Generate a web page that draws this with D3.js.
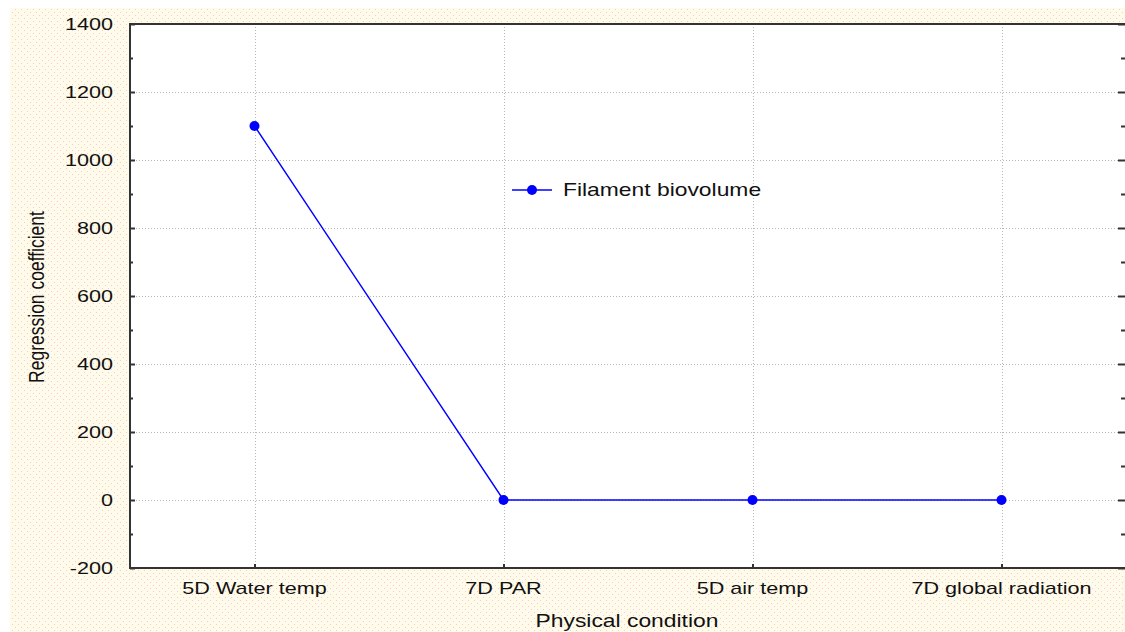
<!DOCTYPE html>
<html>
<head>
<meta charset="utf-8">
<script src="https://cdn.jsdelivr.net/npm/d3@7"></script>
<style>
  body { margin: 0; background: #fff; }
  text { font-family: "Liberation Sans", Arial, sans-serif; fill: #111; }
</style>
</head>
<body>
<div id="wrapper"></div>
<script>
// data
const categories = ['5D Water temp', '7D PAR', '5D air temp', '7D global radiation']
const filamentBiovolume = [1100, 0, 0, 0]
const yTicks = [-200, 0, 200, 400, 600, 800, 1000, 1200, 1400]
const seriesName = 'Filament biovolume'

function drawChart() {
  const width = 1125
  const height = 632
  const stretch = 1.27   // the source image is widened horizontally

  const dims = { left: 130, top: 24, right: 1126, bottom: 568 }

  const svg = d3.select('#wrapper').append('svg')
    .attr('width', width)
    .attr('height', height)

  // dotted paper background
  const defs = svg.append('defs')
  const pat = defs.append('pattern')
    .attr('id', 'paper')
    .attr('width', 6).attr('height', 6)
    .attr('patternUnits', 'userSpaceOnUse')
  pat.append('rect').attr('width', 6).attr('height', 6).attr('fill', '#fffbea')
  pat.append('rect').attr('x', 0).attr('y', 0).attr('width', 1).attr('height', 1).attr('fill', '#f6c9d2')
  pat.append('rect').attr('x', 3).attr('y', 3).attr('width', 1).attr('height', 1).attr('fill', '#f6c9d2')

  svg.append('rect')
    .attr('x', 10).attr('y', 8)
    .attr('width', width - 10).attr('height', height - 8)
    .attr('fill', 'url(#paper)')

  // scales
  const x = d3.scalePoint()
    .domain(categories)
    .range([dims.left, dims.right])
    .padding(0.5)

  const y = d3.scaleLinear()
    .domain([-200, 1400])
    .range([dims.bottom, dims.top])

  // plot area
  svg.append('rect')
    .attr('x', dims.left).attr('y', dims.top)
    .attr('width', dims.right - dims.left).attr('height', dims.bottom - dims.top)
    .attr('fill', '#fff')

  // grid
  const grid = svg.append('g')
    .attr('stroke', '#b8b8b8')
    .attr('stroke-width', 1)
    .attr('stroke-dasharray', '1,2')
  grid.selectAll('.hgrid')
    .data(yTicks.filter(d => d > -200 && d < 1400))
    .enter().append('line')
      .attr('x1', dims.left).attr('x2', dims.right)
      .attr('y1', d => Math.round(y(d)) + 0.5).attr('y2', d => Math.round(y(d)) + 0.5)
  grid.selectAll('.vgrid')
    .data(categories)
    .enter().append('line')
      .attr('x1', d => Math.round(x(d)) + 0.5).attr('x2', d => Math.round(x(d)) + 0.5)
      .attr('y1', dims.top).attr('y2', dims.bottom)

  // axes (inward ticks, box frame)
  const yAxisL = d3.axisLeft(y).tickValues(yTicks).tickSize(-5).tickFormat('')
  const yMinor = d3.range(-100, 1400, 200)
  const axisColor = '#333'

  const gl = svg.append('g').attr('transform', `translate(${dims.left},0)`).call(yAxisL)
  gl.append('g').call(d3.axisLeft(y).tickValues(yMinor).tickSize(-3).tickFormat(''))
  const gr = svg.append('g').attr('transform', `translate(${dims.right - 1},0)`)
    .call(d3.axisRight(y).tickValues(yTicks).tickSize(-7).tickFormat(''))
  gr.append('g').call(d3.axisRight(y).tickValues(yMinor).tickSize(-4).tickFormat(''))
  const gb = svg.append('g').attr('transform', `translate(0,${dims.bottom})`)
    .call(d3.axisBottom(x).tickSize(-4).tickFormat(''))
  svg.selectAll('.domain').remove()
  svg.selectAll('.tick line').attr('stroke', axisColor).attr('stroke-width', 2)

  svg.append('rect')
    .attr('x', dims.left).attr('y', dims.top)
    .attr('width', dims.right - dims.left).attr('height', dims.bottom - dims.top)
    .attr('fill', 'none')
    .attr('stroke', axisColor)
    .attr('stroke-width', 2)

  // tick labels
  svg.append('g').selectAll('text')
    .data(yTicks)
    .enter().append('text')
      .attr('transform', d => `translate(113,${y(d) + 6}) scale(${stretch},1)`)
      .attr('text-anchor', 'end')
      .style('font-size', '17px')
      .text(d => d)

  svg.append('g').selectAll('text')
    .data(categories)
    .enter().append('text')
      .attr('transform', d => `translate(${x(d)},594) scale(${stretch},1)`)
      .attr('text-anchor', 'middle')
      .style('font-size', '17px')
      .text(d => d)

  // axis titles
  svg.append('text')
    .attr('transform', `translate(627,627) scale(${stretch},1)`)
    .attr('text-anchor', 'middle')
    .style('font-size', '18px')
    .text('Physical condition')

  svg.append('text')
    .attr('transform', `translate(44,297) scale(${stretch},1) rotate(-90)`)
    .attr('text-anchor', 'middle')
    .style('font-size', '17.5px')
    .text('Regression coefficient')

  // series
  const pts = categories.map((c, i) => ({ cat: c, value: filamentBiovolume[i] }))
  const line = d3.line()
    .x(d => x(d.cat))
    .y(d => y(d.value))

  svg.append('path')
    .datum(pts)
    .attr('fill', 'none')
    .attr('stroke', '#0000ff')
    .attr('stroke-width', 1.4)
    .attr('d', line)

  svg.append('g').selectAll('circle')
    .data(pts)
    .enter().append('circle')
      .attr('cx', d => x(d.cat))
      .attr('cy', d => y(d.value))
      .attr('r', 5)
      .attr('fill', '#0000ff')

  // legend
  const legend = svg.append('g').attr('transform', 'translate(512,190)')
  legend.append('line')
    .attr('x1', 0).attr('x2', 40)
    .attr('stroke', '#0000ff').attr('stroke-width', 1.4)
  legend.append('circle').attr('cx', 20).attr('r', 5).attr('fill', '#0000ff')
  legend.append('text')
    .attr('transform', `translate(51,6) scale(${stretch},1)`)
    .style('font-size', '18px')
    .text(seriesName)
}
drawChart()
</script>
</body>
</html>
